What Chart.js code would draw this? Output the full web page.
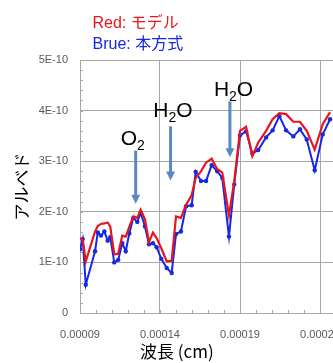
<!DOCTYPE html>
<html>
<head>
<meta charset="utf-8">
<script src="https://cdn.jsdelivr.net/npm/chart.js@4"></script>
<style>
html, body { margin: 0; padding: 0; background: #fff; overflow: hidden; width: 333px; height: 363px; }
</style>
</head>
<body>
<canvas id="albedoChart" width="360" height="363"></canvas>
<script>
// wavelength (cm) and albedo
const wavelengths = [
    9.00e-5, 9.17e-5, 9.36e-5, 9.94e-5, 10.11e-5, 10.31e-5, 10.52e-5, 10.73e-5, 10.89e-5, 11.14e-5,
    11.39e-5, 11.64e-5, 11.86e-5, 12.08e-5, 12.33e-5, 12.58e-5, 12.79e-5, 13.06e-5, 13.31e-5, 13.56e-5,
    13.79e-5, 14.08e-5, 14.42e-5, 14.73e-5, 15.00e-5, 15.31e-5, 15.63e-5, 15.98e-5, 16.23e-5, 16.56e-5,
    16.88e-5, 17.23e-5, 17.58e-5, 17.89e-5, 18.31e-5, 18.64e-5, 19.00e-5, 19.38e-5, 19.77e-5, 20.14e-5,
    20.63e-5, 21.04e-5, 21.46e-5, 21.88e-5, 22.33e-5, 22.75e-5, 23.17e-5, 23.67e-5, 24.17e-5, 24.63e-5
];
const modelAlbedo = [
    1.48e-10, 1.45e-10, 1.02e-10, 1.61e-10, 1.72e-10, 1.76e-10, 1.77e-10, 1.79e-10, 1.71e-10, 1.16e-10,
    1.17e-10, 1.53e-10, 1.51e-10, 1.70e-10, 1.91e-10, 1.88e-10, 2.04e-10, 1.85e-10, 1.40e-10, 1.59e-10,
    1.48e-10, 1.28e-10, 1.02e-10, 1.03e-10, 1.91e-10, 1.88e-10, 2.14e-10, 2.33e-10, 2.67e-10, 2.80e-10,
    2.97e-10, 3.05e-10, 2.84e-10, 2.78e-10, 1.93e-10, 2.60e-10, 3.60e-10, 3.68e-10, 3.10e-10, 3.37e-10,
    3.60e-10, 3.83e-10, 3.95e-10, 3.93e-10, 3.78e-10, 3.78e-10, 3.60e-10, 3.23e-10, 3.73e-10, 3.97e-10
];
const methodAlbedo = [
    1.26e-10, 1.46e-10, 0.56e-10, 1.22e-10, 1.59e-10, 1.53e-10, 1.61e-10, 1.43e-10, 1.50e-10, 1.00e-10,
    1.05e-10, 1.38e-10, 1.22e-10, 1.57e-10, 1.88e-10, 1.80e-10, 1.98e-10, 1.71e-10, 1.36e-10, 1.38e-10,
    1.30e-10, 1.07e-10, 0.89e-10, 0.79e-10, 1.56e-10, 1.61e-10, 2.11e-10, 2.13e-10, 2.79e-10, 2.61e-10,
    2.61e-10, 2.92e-10, 2.80e-10, 2.67e-10, 1.51e-10, 2.54e-10, 3.51e-10, 3.59e-10, 3.15e-10, 3.22e-10,
    3.47e-10, 3.61e-10, 3.89e-10, 3.61e-10, 3.49e-10, 3.63e-10, 3.43e-10, 2.82e-10, 3.53e-10, 3.83e-10
];
const seriesNames = ['Red: モデル', 'Brue: 本方式'];
const xTickValues = [9e-5, 14e-5, 19e-5, 24e-5];
const yTickValues = [0, 1e-10, 2e-10, 3e-10, 4e-10, 5e-10];

const RED = '#e8141e';
const BLUE = '#1428e6';
const ARROW = '#5b88c2';
const GRID = '#a6a6a6';
const LATIN = '"Liberation Sans", Arial, sans-serif';
const JP = '"Liberation Sans", "Noto Sans CJK JP", sans-serif';

// absorption labels, placed in data units
const gasMarks = [
    { main: 'O', sub: '2', tail: '', x: 11.54e-5, y: 3.33e-10, arrowX: 12.48e-5, from: 3.21e-10, to: 2.16e-10 },
    { main: 'H', sub: '2', tail: 'O', x: 13.58e-5, y: 3.87e-10, arrowX: 14.66e-5, from: 3.69e-10, to: 2.62e-10 },
    { main: 'H', sub: '2', tail: 'O', x: 17.37e-5, y: 4.28e-10, arrowX: 18.37e-5, from: 4.18e-10, to: 3.08e-10 }
];

const chartText = {
    id: 'chartText',
    beforeDatasetsDraw(chart) {
        const { ctx, scales: { x, y } } = chart;
        ctx.save();
        ctx.strokeStyle = GRID;
        ctx.lineWidth = 1;
        ctx.beginPath();
        for (let i = 9; i <= 25; i++) {
            const px = Math.round(x.getPixelForValue(i * 1e-5)) + 0.5;
            ctx.moveTo(px, y.bottom);
            ctx.lineTo(px, y.bottom - 3);
        }
        for (let i = 0; i <= 25; i++) {
            const py = Math.round(y.getPixelForValue(i * 0.2e-10)) + 0.5;
            ctx.moveTo(x.left, py);
            ctx.lineTo(x.left + 3, py);
        }
        ctx.stroke();
        ctx.restore();
    },
    afterDraw(chart) {
        const { ctx, scales: { x, y } } = chart;
        ctx.save();

        // legend
        ctx.textAlign = 'left';
        ctx.textBaseline = 'alphabetic';
        ctx.font = '16px ' + JP;
        ctx.fillStyle = RED;
        ctx.fillText(seriesNames[0], 92.5, 28);
        ctx.fillStyle = BLUE;
        ctx.fillText(seriesNames[1], 92.5, 49);

        // gas labels and arrows
        gasMarks.forEach(m => {
            let tx = x.getPixelForValue(m.x);
            const ty = y.getPixelForValue(m.y);
            ctx.fillStyle = '#000';
            ctx.font = '21px ' + LATIN;
            ctx.fillText(m.main, tx, ty);
            tx += ctx.measureText(m.main).width;
            ctx.font = '14px ' + LATIN;
            ctx.fillText(m.sub, tx, ty + 5);
            tx += ctx.measureText(m.sub).width;
            ctx.font = '21px ' + LATIN;
            ctx.fillText(m.tail, tx, ty);

            const ax = x.getPixelForValue(m.arrowX);
            const y0 = y.getPixelForValue(m.from);
            const y1 = y.getPixelForValue(m.to);
            ctx.strokeStyle = ARROW;
            ctx.fillStyle = ARROW;
            ctx.lineWidth = 3;
            ctx.beginPath();
            ctx.moveTo(ax, y0);
            ctx.lineTo(ax, y1 - 6);
            ctx.stroke();
            ctx.beginPath();
            ctx.moveTo(ax - 4.5, y1 - 9);
            ctx.lineTo(ax + 4.5, y1 - 9);
            ctx.lineTo(ax, y1);
            ctx.closePath();
            ctx.fill();
        });

        // x title
        ctx.fillStyle = '#000';
        ctx.font = '17px "Noto Sans CJK JP", sans-serif';
        ctx.fillText('波長 (cm)', 140, 358);
        ctx.restore();
    }
};

new Chart(document.getElementById('albedoChart'), {
    type: 'line',
    data: {
        datasets: [{
            label: seriesNames[0],
            data: wavelengths.map((w, i) => ({ x: w, y: modelAlbedo[i] })),
            borderColor: RED,
            borderWidth: 2.2,
            pointRadius: 0,
            tension: 0
        }, {
            label: seriesNames[1],
            data: wavelengths.map((w, i) => ({ x: w, y: methodAlbedo[i] })),
            borderColor: BLUE,
            backgroundColor: BLUE,
            borderWidth: 2,
            pointRadius: 2.2,
            pointBorderWidth: 0,
            tension: 0
        }]
    },
    options: {
        responsive: false,
        animation: false,
        layout: { padding: { top: 60, right: 24, left: 0, bottom: 0 } },
        plugins: {
            legend: { display: false },
            tooltip: { enabled: false }
        },
        scales: {
            x: {
                type: 'linear',
                min: 9e-5,
                max: 25e-5,
                afterBuildTicks: s => { s.ticks = xTickValues.map(v => ({ value: v })); },
                afterFit: s => { s.height = 50; },
                grid: { color: GRID, drawTicks: false },
                border: { color: GRID },
                ticks: {
                    font: { family: LATIN, size: 11 },
                    color: '#595959',
                    padding: 15,
                    maxRotation: 0,
                    autoSkip: false,
                    callback: v => v.toFixed(5)
                }
            },
            y: {
                min: 0,
                max: 5e-10,
                afterBuildTicks: s => { s.ticks = yTickValues.map(v => ({ value: v })); },
                afterFit: s => { s.width = 80; },
                grid: { color: GRID, drawTicks: false },
                border: { color: GRID },
                ticks: {
                    font: { family: LATIN, size: 11 },
                    color: '#595959',
                    padding: 12,
                    callback: v => v === 0 ? '0' : Math.round(v / 1e-10) + 'E-10'
                },
                title: {
                    display: true,
                    text: 'アルベド',
                    font: { family: '"Noto Sans CJK JP", sans-serif', size: 17 },
                    color: '#000',
                    padding: { top: 11, bottom: 0 }
                }
            }
        }
    },
    plugins: [chartText]
});
</script>
</body>
</html>
